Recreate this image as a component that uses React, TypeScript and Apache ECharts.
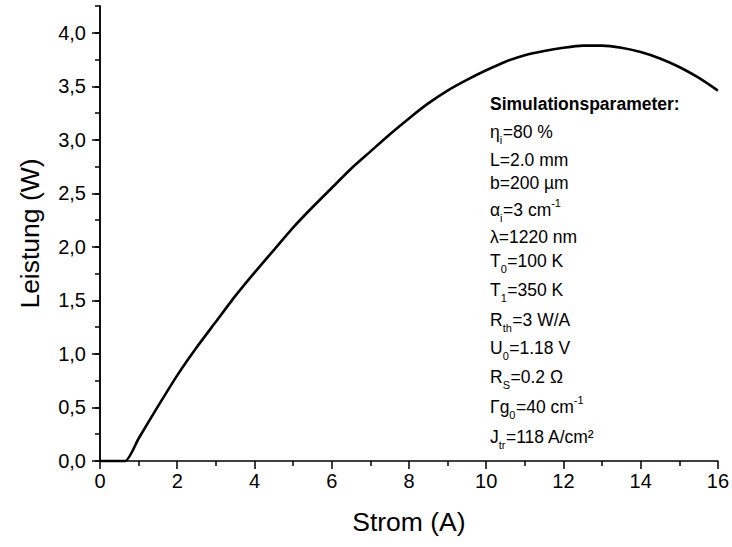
import React, { useEffect, useRef } from 'react';
import * as echarts from 'echarts';

// Strom (A)
const CURRENT = [0, 0.65, 1.0, 1.5, 2.0, 2.5, 3.0, 3.5, 4.0, 4.5, 5.0, 5.5, 6.0, 6.5, 7.0, 7.5, 8.0, 8.5, 9.0, 9.5, 10.0, 10.5, 11.0, 11.5, 12.0, 12.5, 13.0, 13.5, 14.0, 14.5, 15.0, 15.5, 16.0];
// Leistung (W)
const POWER = [0, 0, 0.21, 0.51, 0.8, 1.06, 1.3, 1.54, 1.76, 1.97, 2.18, 2.37, 2.55, 2.73, 2.89, 3.05, 3.2, 3.34, 3.46, 3.56, 3.65, 3.73, 3.79, 3.83, 3.86, 3.88, 3.88, 3.86, 3.82, 3.76, 3.68, 3.58, 3.46];

const Y_MAJOR = [0, 0.5, 1.0, 1.5, 2.0, 2.5, 3.0, 3.5, 4.0];
const X_NAME = 'Strom (A)';
const Y_NAME = 'Leistung (W)';

const PARAM_TITLE = 'Simulationsparameter:';
// each line: segments [text, kind] kind: '' normal, 'sub', 'sup'
const PARAM_LINES: [string, string][][] = [
  [['η', ''], ['i', 'sub'], ['=80 %', '']],
  [['L=2.0 mm', '']],
  [['b=200 µm', '']],
  [['α', ''], ['i', 'sub'], ['=3 cm', ''], ['-1', 'sup']],
  [['λ=1220 nm', '']],
  [['T', ''], ['0', 'sub'], ['=100 K', '']],
  [['T', ''], ['1', 'sub'], ['=350 K', '']],
  [['R', ''], ['th', 'sub'], ['=3 W/A', '']],
  [['U', ''], ['0', 'sub'], ['=1.18 V', '']],
  [['R', ''], ['S', 'sub'], ['=0.2 Ω', '']],
  [['Γg', ''], ['0', 'sub'], ['=40 cm', ''], ['-1', 'sup']],
  [['J', ''], ['tr', 'sub'], ['=118 A/cm²', '']],
];

const FONT = '"Liberation Sans", Arial, Helvetica, sans-serif';

export default function App() {
  const ref = useRef<HTMLDivElement>(null);

  useEffect(() => {
    document.body.style.margin = '0';
    if (!ref.current) return;
    const chart = echarts.init(ref.current, null, { renderer: 'svg' });

    const canvas = document.createElement('canvas');
    const ctx = canvas.getContext('2d')!;
    const measure = (t: string, size: number, bold = false) => {
      ctx.font = `${bold ? 'bold ' : ''}${size}px ${FONT}`;
      return ctx.measureText(t).width;
    };

    const mainSize = 17.5;
    const subSize = 11;
    const left = 490;
    const lineYs = [132, 160, 183, 210, 237, 261, 290, 320, 348, 377, 407, 437];

    const graphics: any[] = [
      {
        type: 'text',
        x: left,
        y: 104,
        style: {
          text: PARAM_TITLE,
          fontSize: 17.5,
          fontWeight: 'bold',
          fontFamily: FONT,
          fill: '#000',
          verticalAlign: 'middle',
        },
      },
    ];

    PARAM_LINES.forEach((segs, i) => {
      let x = left;
      const cy = lineYs[i];
      segs.forEach(([t, kind]) => {
        const size = kind === '' ? mainSize : subSize;
        const dy = kind === 'sub' ? 8 : kind === 'sup' ? -7 : 0;
        graphics.push({
          type: 'text',
          x,
          y: cy + dy,
          style: {
            text: t,
            fontSize: size,
            fontFamily: FONT,
            fill: '#000',
            verticalAlign: 'middle',
          },
        });
        x += measure(t, size) + (kind === 'sub' ? 0.5 : 0);
      });
    });

    const axisLine = { show: true, lineStyle: { color: '#000', width: 1.5 } };
    const labelStyle = { color: '#000', fontSize: 20, fontFamily: FONT };

    chart.setOption({
      animation: false,
      backgroundColor: '#fff',
      grid: { left: 100, right: 14, top: 6, bottom: 86, containLabel: false },
      xAxis: {
        type: 'value',
        min: 0,
        max: 16,
        interval: 2,
        name: X_NAME,
        nameLocation: 'middle',
        nameGap: 47,
        nameTextStyle: { color: '#000', fontSize: 26.5, fontFamily: FONT },
        axisLine,
        axisTick: { show: true, inside: false, length: 8, lineStyle: { color: '#000', width: 1.5 } },
        minorTick: { show: true, splitNumber: 2, length: 5, lineStyle: { color: '#000', width: 1.5 } },
        axisLabel: { ...labelStyle, margin: 10 },
        splitLine: { show: false },
        minorSplitLine: { show: false },
      },
      yAxis: [
        {
          type: 'value',
          min: 0,
          max: 4.25,
          interval: 0.25,
          position: 'left',
          axisLine,
          axisTick: { show: true, inside: false, length: 5, lineStyle: { color: '#000', width: 1.5 } },
          axisLabel: { show: false },
          splitLine: { show: false },
        },
        {
          type: 'value',
          min: 0,
          max: 4.25,
          interval: 0.5,
          position: 'left',
          offset: 0,
          name: Y_NAME,
          nameLocation: 'middle',
          nameGap: 57,
          nameTextStyle: { color: '#000', fontSize: 26.5, fontFamily: FONT },
          axisLine,
          axisTick: { show: true, inside: false, length: 8, customValues: Y_MAJOR, lineStyle: { color: '#000', width: 1.5 } },
          axisLabel: {
            ...labelStyle,
            margin: 14,
            customValues: Y_MAJOR,
            formatter: (v: number) => v.toFixed(1).replace('.', ','),
          },
          splitLine: { show: false },
        },
      ],
      series: [
        {
          type: 'line',
          xAxisIndex: 0,
          yAxisIndex: 1,
          data: CURRENT.map((c, i) => [c, POWER[i]]),
          showSymbol: false,
          symbol: 'none',
          smooth: 0.2,
          lineStyle: { color: '#000', width: 2.6 },
          clip: false,
        },
      ],
      graphic: graphics,
    });

    return () => chart.dispose();
  }, []);

  return <div ref={ref} style={{ width: 732, height: 547 }} />;
}
